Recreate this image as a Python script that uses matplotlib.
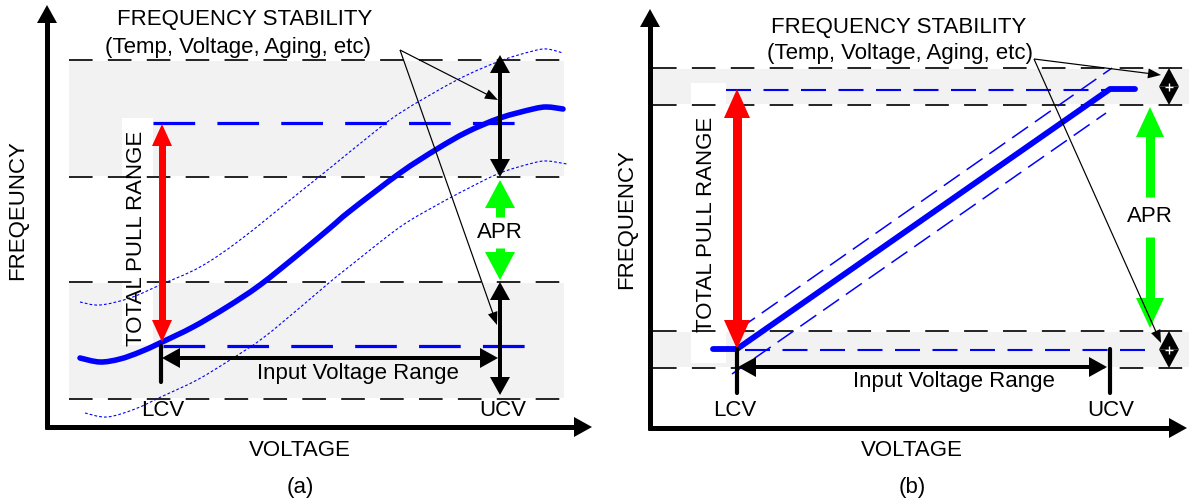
import numpy as np
import matplotlib.pyplot as plt
from matplotlib.patches import Rectangle, Polygon, PathPatch
from matplotlib.path import Path

plt.rcParams['font.family'] = ['Liberation Sans', 'DejaVu Sans']
plt.rcParams['lines.scale_dashes'] = False

# units: 1 unit = 1 px, origin at the corner of each panel's axes
# ---- panel (a): nonlinear tuning curve
a_curve_v = [33, 53, 73, 93, 113, 146, 180, 213, 253, 283, 303, 353, 390, 420, 453, 486, 500, 516]
a_curve_f = [69, 65, 68, 75, 84, 100, 120, 142, 174, 199, 216, 254, 278, 295, 309, 318, 320, 318]
a_upper_v = [33, 53, 83, 113, 153, 193, 253, 283, 320, 353, 410, 453, 486, 500, 516]
a_upper_f = [125, 122, 129, 142, 160, 187, 235, 259, 289, 314, 347, 366, 376, 378, 374]
a_lower_v = [38, 60, 88, 116, 150, 183, 216, 256, 283, 303, 353, 390, 420, 453, 486, 500, 520]
a_lower_f = [14, 10, 18, 31, 47, 67, 89, 122, 145, 161, 200, 222, 238, 254, 264, 266, 263]
a_levels = [367, 250, 145, 28]
a_targets = [304, 81]
a_lcv, a_ucv = 115, 453

# ---- panel (b): linear tuning curve
b_curve_v = [63, 87, 460, 485]
b_curve_f = [79, 79, 339, 339]
b_upper_v = [89, 462]
b_upper_f = [99, 360]
b_lower_v = [82, 456]
b_lower_f = [54, 315]
b_levels = [360, 323, 97, 60]
b_targets = [338, 78]
b_lcv, b_ucv = 87, 460

BLUE = '#0000ff'
GREEN = '#00ff00'
GRAY = '#f2f2f2'
FS = 16

fig = plt.figure(figsize=(11.89, 5.04), dpi=100)
ax_a = fig.add_axes([0, 0, 600 / 1189, 1])
ax_a.set_xlim(-47, 553)
ax_a.set_ylim(-77, 427)
ax_b = fig.add_axes([600 / 1189, 0, 589 / 1189, 1])
ax_b.set_xlim(-50, 539)
ax_b.set_ylim(-76, 428)
for ax in (ax_a, ax_b):
    ax.axis('off')


def arrow(ax, p0, p1, color, shaft, hl, hw, both=False, z=6):
    # shaft width and head sizes in px (1 data unit = 1 px)
    p0 = np.array(p0, float)
    p1 = np.array(p1, float)
    d = (p1 - p0) / np.hypot(*(p1 - p0))
    n = np.array([-d[1], d[0]])
    a = p0 + d * hl * 0.7 if both else p0
    b = p1 - d * hl * 0.7
    ax.plot([a[0], b[0]], [a[1], b[1]], color=color, lw=shaft * 0.72,
            solid_capstyle='butt', zorder=z, clip_on=False)
    heads = [(p1, -d)] + ([(p0, d)] if both else [])
    for tip, back in heads:
        base = tip + back * hl
        ax.add_patch(Polygon([tip, base + n * hw, base - n * hw], closed=True,
                             color=color, lw=0, zorder=z, clip_on=False))


def smooth(ax, xs, ys, **kw):
    # draw a smooth path through the read points (Catmull-Rom as Bezier)
    P = np.column_stack([xs, ys]).astype(float)
    P = np.vstack([P[0], P, P[-1]])
    verts = [P[1]]
    codes = [Path.MOVETO]
    for i in range(1, len(P) - 2):
        c1 = P[i] + (P[i + 1] - P[i - 1]) / 6
        c2 = P[i + 1] - (P[i + 2] - P[i]) / 6
        verts += [c1, c2, P[i + 1]]
        codes += [Path.CURVE4] * 3
    ax.add_patch(PathPatch(Path(verts, codes), fill=False, **kw))


def txt(ax, x, y, s, rot=0):
    ax.text(x, y, s, fontsize=FS, ha='center', va='center', rotation=rot, zorder=8)


def frame(ax, xtip, ytip, x0, x1, levels, wbox):
    arrow(ax, (0, -2), (0, ytip), 'black', 5, 18, 10)
    arrow(ax, (-2, 0), (xtip, 0), 'black', 5, 18, 10)
    for lo, hi in [(levels[1], levels[0]), (levels[3], levels[2])]:
        ax.add_patch(Rectangle((x0, lo + 1), x1 - x0, hi - lo - 2, color=GRAY, lw=0, zorder=1))
    ax.add_patch(Rectangle((wbox[0], wbox[2]), wbox[1] - wbox[0], wbox[3] - wbox[2],
                           color='white', lw=0, zorder=2))
    for lv in levels:
        ax.plot([x0, x1 - 4], [lv, lv], color='#222222', lw=1.4, dashes=(17, 11), zorder=3)


# ================= panel (a)
frame(ax_a, 545, 422, 22, 517, a_levels, (75, 106, 82, 309))
smooth(ax_a, a_upper_v, a_upper_f, color=BLUE, lw=0.8, linestyle=(0, (2, 1.5)), zorder=4)
smooth(ax_a, a_lower_v, a_lower_f, color=BLUE, lw=0.8, linestyle=(0, (2, 1.5)), zorder=4)
ax_a.plot([106, 473], [a_targets[0]] * 2, color=BLUE, lw=2.3, dashes=(30, 16), zorder=4)
ax_a.plot([116, 488], [a_targets[1]] * 2, color=BLUE, lw=2.3, dashes=(30, 16), zorder=4)
smooth(ax_a, a_curve_v, a_curve_f, color=BLUE, lw=4, capstyle='round', zorder=5)

arrow(ax_a, (a_lcv, 85), (a_lcv, 303), 'red', 7, 22, 10, both=True)
arrow(ax_a, (a_ucv, 250), (a_ucv, 372), 'black', 4, 18, 10, both=True)
arrow(ax_a, (a_ucv, 145), (a_ucv, 32), 'black', 4, 18, 10, both=True)
arrow(ax_a, (a_ucv, 210), (a_ucv, 247), GREEN, 9, 28, 15)
arrow(ax_a, (a_ucv, 179), (a_ucv, 147), GREEN, 9, 28, 15)
arrow(ax_a, (a_lcv, 69), (451, 69), 'black', 4, 18, 10, both=True)
ax_a.plot([a_lcv - 1, a_lcv - 1], [81, 45], color='black', lw=3, solid_capstyle='round', zorder=6)
arrow(ax_a, (353, 377), (451, 327), 'black', 1.2, 13, 5)
arrow(ax_a, (353, 377), (450, 102), 'black', 1.2, 13, 5)

txt(ax_a, 198, 408, 'FREQUENCY STABILITY')
txt(ax_a, 191, 380, '(Temp, Voltage, Aging, etc)')
txt(ax_a, 89, 189, 'TOTAL PULL RANGE', 90)
txt(ax_a, a_ucv, 194, 'APR')
txt(ax_a, 311, 54, 'Input Voltage Range')
txt(ax_a, 116, 16, 'LCV')
txt(ax_a, 456, 17, 'UCV')
txt(ax_a, -29, 217, 'FREQEUNCY', 90)
txt(ax_a, 253, -24, 'VOLTAGE')
txt(ax_a, 253, -60, '(a)')

# ================= panel (b)
frame(ax_b, 537, 419, 3, 539, b_levels, (41, 76, 65, 345))
ax_b.plot(b_upper_v, b_upper_f, color=BLUE, lw=1.1, dashes=(14, 6), zorder=4)
ax_b.plot(b_lower_v, b_lower_f, color=BLUE, lw=1.1, dashes=(14, 6), zorder=4)
ax_b.plot([76, 460], [b_targets[0]] * 2, color=BLUE, lw=1.5, dashes=(18, 9), zorder=4)
ax_b.plot([95, 502], [b_targets[1]] * 2, color=BLUE, lw=1.5, dashes=(18, 9), zorder=4)
ax_b.plot(b_curve_v, b_curve_f, color=BLUE, lw=4.2, solid_capstyle='round', zorder=5)

arrow(ax_b, (b_lcv, 79), (b_lcv, 339), 'red', 9, 29, 13, both=True)
arrow(ax_b, (500, 231), (500, 321), GREEN, 9, 30, 14)
arrow(ax_b, (500, 191), (500, 100), GREEN, 9, 30, 14)
for lo, hi in [(b_levels[1], b_levels[0]), (b_levels[3], b_levels[2])]:
    arrow(ax_b, (519, lo), (519, hi), 'black', 1.5, 18.5, 10, both=True)
    ax_b.plot(519, (lo + hi) / 2, marker='+', color='white', ms=6, mew=1, zorder=7)
arrow(ax_b, (b_lcv + 1, 61), (457, 61), 'black', 4, 18, 10, both=True)
ax_b.plot([b_lcv, b_lcv], [79, 35], color='black', lw=3, solid_capstyle='round', zorder=6)
ax_b.plot([b_ucv, b_ucv], [79, 35], color='black', lw=3, solid_capstyle='round', zorder=6)
arrow(ax_b, (384, 369), (511, 353), 'black', 1.2, 13, 5)
arrow(ax_b, (384, 369), (511, 85), 'black', 1.2, 13, 5)

txt(ax_b, 249, 401, 'FREQUENCY STABILITY')
txt(ax_b, 250, 375, '(Temp, Voltage, Aging, etc)')
txt(ax_b, 57, 204, 'TOTAL PULL RANGE', 90)
txt(ax_b, 500, 211, 'APR')
txt(ax_b, 304, 46, 'Input Voltage Range')
txt(ax_b, 85, 17, 'LCV')
txt(ax_b, 461, 17, 'UCV')
txt(ax_b, -23, 209, 'FREQUENCY', 90)
txt(ax_b, 262, -23, 'VOLTAGE')
txt(ax_b, 262, -60, '(b)')

fig.savefig('out.png', dpi=100)
